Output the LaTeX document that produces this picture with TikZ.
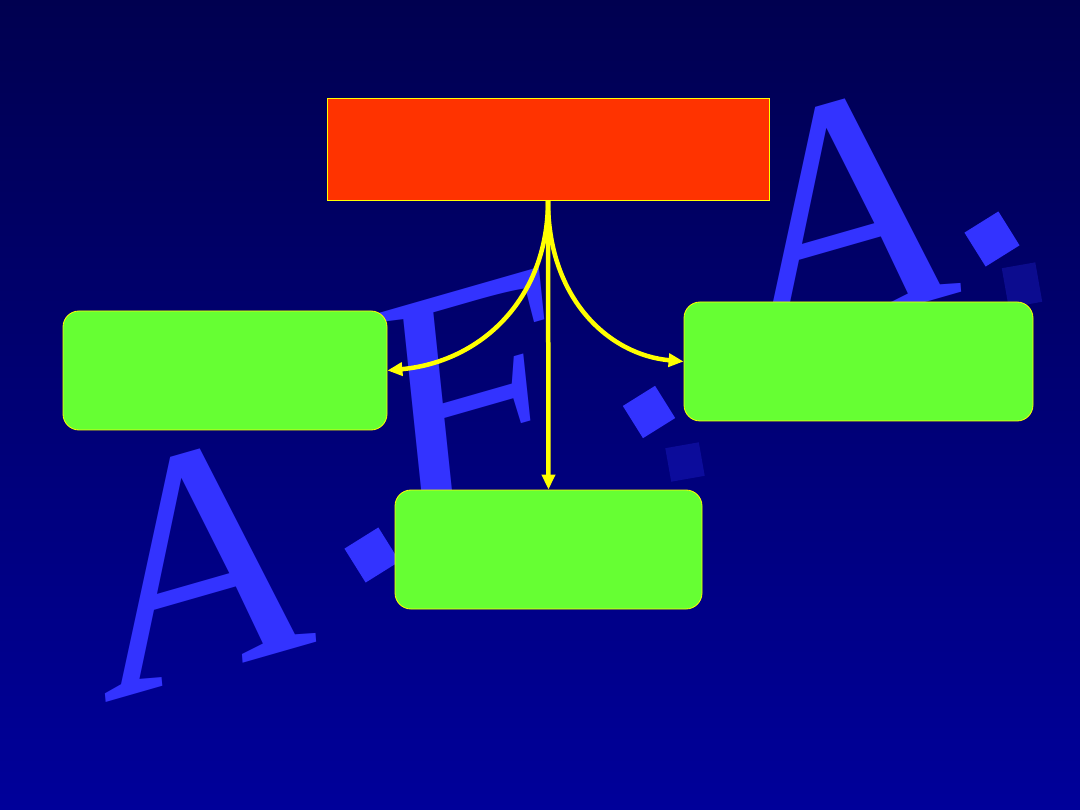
\documentclass[tikz,border=0pt]{standalone}
\usepackage{fontspec}
\setmainfont{Liberation Serif}
\usetikzlibrary{arrows.meta}
\definecolor{bgtop}{HTML}{000050}
\definecolor{bgbot}{HTML}{00009A}
\definecolor{deco}{HTML}{3333FF}
\definecolor{redbox}{HTML}{FF3300}
\definecolor{greenbox}{HTML}{66FF33}
\definecolor{arrowyel}{HTML}{FFFF00}
\tikzset{
  decoletter/.style={text=deco, font=\itshape\fontsize{330}{330}\selectfont, inner sep=0pt},
  topbox/.style={fill=redbox, draw=arrowyel, line width=0.8pt, minimum width=442pt, minimum height=102pt, inner sep=0pt},
  leafbox/.style={fill=greenbox, draw=arrowyel, line width=0.8pt, rounded corners=16pt, minimum height=119pt, inner sep=0pt},
  link/.style={draw=arrowyel, line width=4.5pt, -{Triangle[length=15pt,width=13pt]}}
}
\begin{document}
\begin{tikzpicture}[x=1pt,y=-1pt]
  \shade[top color=bgtop, bottom color=bgbot] (0,0) rectangle (1080,810);
  \useasboundingbox (0,0) rectangle (1080,810);
  % decorative letters
  \node[decoletter, rotate=16] (la1) at (190,565) {A};
  \node[decoletter, rotate=16] (lf) at (470,400) {F};
  \node[decoletter, rotate=16] (la2) at (835,215) {A};
  \fill[deco, rotate around={32:(372,555)}] (352,535) rectangle (392,575);
  \fill[deco, rotate around={32:(649,412)}] (630,393) rectangle (668,431);
  \fill[deco, rotate around={32:(992,239)}] (972,219) rectangle (1012,259);
  \fill[deco, opacity=0.25, rotate around={10:(685,462)}] (668,445) rectangle (702,479);
  \fill[deco, opacity=0.25, rotate around={10:(1022,285)}] (1005,265) rectangle (1039,305);
  % boxes
  \node[topbox] (top) at (548,149) {};
  \node[leafbox, minimum width=324pt] (left) at (225,370.5) {};
  \node[leafbox, minimum width=349pt] (right) at (858.5,361.5) {};
  \node[leafbox, minimum width=307pt] (bottom) at (548.5,549.5) {};
  % connectors
  \draw[link] (top.south) -- (bottom.north);
  \draw[link] (top.south) .. controls (548,300) and (480,362) .. (left.east);
  \draw[link] (top.south) .. controls (548,300) and (610,355) .. (right.west);
\end{tikzpicture}
\end{document}
